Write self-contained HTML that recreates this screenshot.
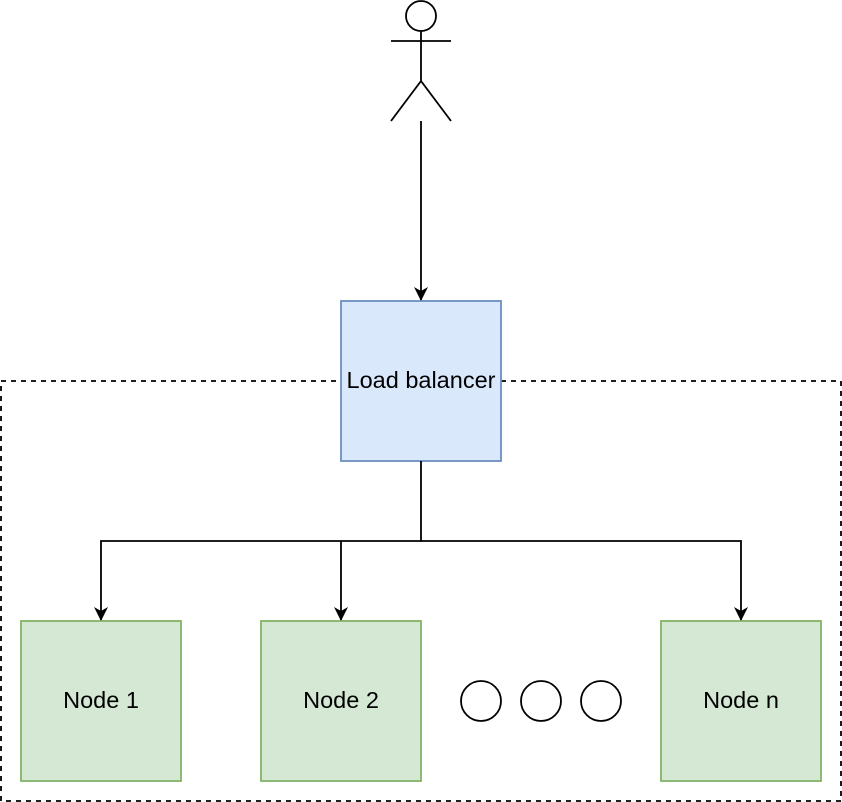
<!DOCTYPE html>
<html><head><style>body{margin:0;background:#fff}svg{display:block}</style></head><body>
<svg width="842" height="802" viewBox="0 0 842 802" xmlns="http://www.w3.org/2000/svg" font-family="Liberation Sans, sans-serif" font-size="23.5">
<defs><marker id="a" markerWidth="16" markerHeight="16" refX="14" refY="7" orient="auto" markerUnits="userSpaceOnUse"><path d="M0,0 L14,7 L0,14 L4,7 Z" fill="#000"/></marker></defs>
<rect x="1" y="381" width="840" height="420" fill="none" stroke="#000" stroke-width="1.8" stroke-dasharray="5,5"/>
<circle cx="421" cy="16" r="15" fill="#fff" stroke="#000" stroke-width="1.8"/>
<path d="M421 31V81M391 41H451M391 121L421 81L451 121" fill="none" stroke="#000" stroke-width="1.8"/>
<line x1="421" y1="121" x2="421" y2="301" stroke="#000" stroke-width="1.8" marker-end="url(#a)"/>
<rect x="341" y="301" width="160" height="160" fill="#dae8fc" stroke="#6c8ebf" stroke-width="1.8"/>
<text x="421" y="388" text-anchor="middle">Load balancer</text>
<path d="M421 461V541H101V621" fill="none" stroke="#000" stroke-width="1.8" marker-end="url(#a)"/>
<path d="M421 541H741V621" fill="none" stroke="#000" stroke-width="1.8" marker-end="url(#a)"/>
<line x1="341" y1="541" x2="341" y2="621" stroke="#000" stroke-width="1.8" marker-end="url(#a)"/>
<rect x="21" y="621" width="160" height="160" fill="#d5e8d4" stroke="#82b366" stroke-width="1.8"/>
<rect x="261" y="621" width="160" height="160" fill="#d5e8d4" stroke="#82b366" stroke-width="1.8"/>
<rect x="661" y="621" width="160" height="160" fill="#d5e8d4" stroke="#82b366" stroke-width="1.8"/>
<text x="101" y="708" text-anchor="middle">Node 1</text>
<text x="341" y="708" text-anchor="middle">Node 2</text>
<text x="741" y="708" text-anchor="middle">Node n</text>
<circle cx="481" cy="701" r="20" fill="#fff" stroke="#000" stroke-width="1.8"/>
<circle cx="541" cy="701" r="20" fill="#fff" stroke="#000" stroke-width="1.8"/>
<circle cx="601" cy="701" r="20" fill="#fff" stroke="#000" stroke-width="1.8"/>
</svg>
</body></html>
